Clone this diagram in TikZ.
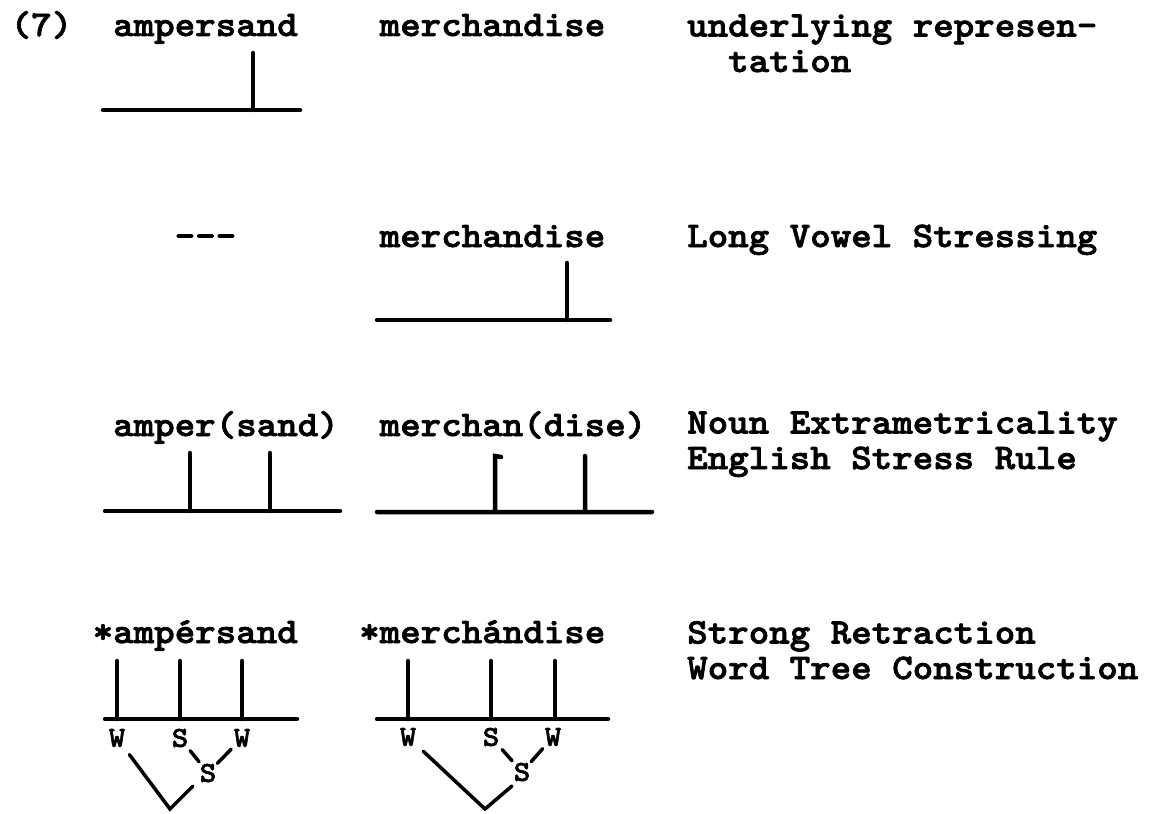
\documentclass[tikz,border=0pt]{standalone}
\usepackage{fontspec}
\newfontfamily\typewriter{lmmonolt10-bold.otf}[FakeBold=2,FakeStretch=1.085]
\tikzset{
  typed/.style={font=\typewriter\fontsize{36}{35.5}\selectfont, inner sep=0pt, anchor=base west},
  tag/.style={font=\typewriter\fontsize{29}{29}\selectfont, inner sep=1pt},
  grid/.style={line width=4.5pt, line cap=round},
  branch/.style={line width=3.5pt, line cap=round}
}
\begin{document}
\begin{tikzpicture}[x=1pt,y=-1pt]
\useasboundingbox (0,0) rectangle (1155,813);
% underlying representation
\node[typed] (num) at (10.5,36) {(7)};
\node[typed] (amp1) at (113,36) {ampersand};
\node[typed] (merch1) at (379.5,36) {merchandise};
\node[typed, align=left] (rule1) at (687,72) {underlying represen-\\\phantom{un}tation};
\draw[grid] (103,110) -- (300,110) (253,110) -- (253,53);
% long vowel stressing
\node[typed] (amp2) at (174.5,247) {-\kern0pt-\kern0pt-};
\node[typed] (merch2) at (379.5,247) {merchandise};
\node[typed] (rule2) at (687,247) {Long Vowel Stressing};
\draw[grid] (377,320) -- (610,320) (567,320) -- (567,263);
% extrametricality and ESR
\node[typed] (amp3) at (113,436) {amper(sand)};
\node[typed] (merch3) at (379.5,436) {merchan(dise)};
\node[typed, align=left] (rule3) at (687,469) {Noun Extrametricality\\English Stress Rule};
\draw[grid] (105,511) -- (340,511) (190,511) -- (190,453) (270,511) -- (270,453);
\draw[grid] (377,512) -- (652,512) (585,512) -- (585,456) (495,512) -- (495,456) -- (501,457);
% strong retraction and word tree
\node[typed] (amp4) at (92.5,643) {*ampérsand};
\node[typed] (merch4) at (359,643) {*merchándise};
\node[typed, align=left] (rule4) at (687,679) {Strong Retraction\\Word Tree Construction};
\draw[grid] (105,719) -- (297,719);
\foreach \x in {117,180,242} \draw[grid] (\x,719) -- (\x,661);
\draw[grid] (377,719) -- (608,719);
\foreach \x in {408,491,555} \draw[grid] (\x,719) -- (\x,661);
% tree for ampersand
\node[tag] (wL1) at (117,738) {W};
\node[tag] (sL) at (180,738) {S};
\node[tag] (wL2) at (242,738) {W};
\node[tag] (rootL) at (208,773) {S};
\coordinate (apexL) at (170,809);
\coordinate (armL) at (193,786);
\draw[branch, shorten <=3pt, shorten >=1pt] (sL) -- (rootL);
\draw[branch, shorten <=2pt] (wL2) -- (rootL);
\draw[branch, shorten <=8pt] (wL1) -- (apexL) -- (armL);
% tree for merchandise
\node[tag] (wR1) at (408,737) {W};
\node[tag] (sR) at (491,737) {S};
\node[tag] (wR2) at (553,737) {W};
\node[tag] (rootR) at (522,772) {S};
\coordinate (apexR) at (485,809);
\coordinate (armR) at (512,786);
\draw[branch, shorten <=3pt, shorten >=1pt] (sR) -- (rootR);
\draw[branch, shorten <=2pt] (wR2) -- (rootR);
\draw[branch, shorten <=8pt] (wR1) -- (apexR) -- (armR);
\end{tikzpicture}
\end{document}
